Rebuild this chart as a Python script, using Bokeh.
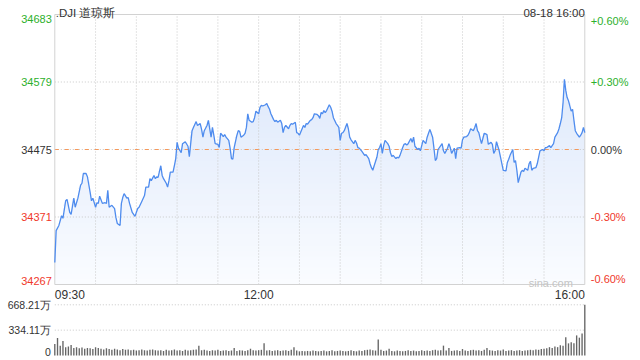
import numpy as np
from bokeh.plotting import figure
from bokeh.models import Range1d, Label
from bokeh.embed import file_html
from bokeh.resources import INLINE

# ---------------- data ----------------
title_text = ".DJI 道琼斯"
date_text = "08-18 16:00"
watermark = "sina.com"
prev_close = 34475
price_ticks = [34683, 34579, 34475, 34371, 34267]
pct_labels = ["+0.60%", "+0.30%", "0.00%", "-0.30%", "-0.60%"]
time_ticks = [0, 150, 390]
time_labels = ["09:30", "12:00", "16:00"]
grid_minutes = [30, 60, 90, 120, 150, 180, 210, 240, 270, 300, 330, 360]
vol_ticks = [668.21, 334.11, 0]
vol_tick_labels = ["668.21万", "334.11万", "0"]

minutes = [0, 1, 3, 5, 6, 8, 9, 11, 12, 14, 15, 17, 19, 20, 21, 23, 24, 26, 27, 28,
           30, 31, 32, 33, 35, 37, 38, 39, 40, 42, 44, 45, 46, 48, 49, 50, 51, 53, 54, 55,
           57, 58, 59, 61, 62, 64, 66, 67, 69, 70, 71, 73, 74, 75, 76, 78, 79, 80, 82, 83,
           84, 85, 87, 88, 89, 90, 91, 93, 94, 96, 98, 99, 101, 102, 104, 105, 107, 108, 109, 110,
           112, 113, 115, 116, 117, 118, 120, 121, 122, 124, 125, 126, 128, 129, 130, 131, 132, 134, 135, 136,
           137, 139, 140, 141, 142, 143, 145, 146, 147, 148, 150, 151, 152, 153, 155, 156, 157, 158, 159, 161,
           162, 163, 164, 166, 167, 168, 169, 170, 172, 173, 174, 175, 177, 178, 179, 180, 182, 183, 184, 185,
           186, 188, 189, 190, 191, 193, 194, 195, 196, 197, 198, 199, 200, 202, 203, 204, 205, 207, 208, 209,
           210, 211, 212, 213, 215, 216, 217, 218, 220, 221, 222, 223, 224, 226, 227, 228, 229, 231, 232, 233,
           234, 235, 237, 238, 239, 240, 241, 242, 243, 245, 246, 247, 248, 249, 251, 252, 253, 254, 256, 257,
           258, 259, 260, 262, 263, 264, 265, 267, 268, 269, 270, 271, 273, 274, 275, 276, 278, 279, 280, 281,
           282, 284, 285, 286, 287, 289, 290, 291, 292, 294, 295, 296, 298, 299, 300, 301, 303, 304, 305, 306,
           308, 309, 310, 311, 312, 313, 314, 316, 317, 318, 319, 321, 322, 323, 324, 325, 327, 328, 329, 330,
           332, 333, 334, 335, 337, 338, 339, 340, 341, 343, 344, 345, 346, 348, 349, 350, 351, 352, 354, 355,
           356, 357, 359, 360, 361, 362, 364, 365, 366, 367, 368, 370, 371, 372, 373, 374, 375, 376, 377, 378,
           380, 381, 382, 383, 384, 386, 387, 388, 389, 390]
prices = [34301, 34350, 34358, 34373, 34369, 34396, 34398, 34378, 34375, 34400, 34386, 34400, 34420, 34423, 34438, 34438, 34433, 34409, 34396, 34400,
          34386, 34393, 34392, 34403, 34392, 34393, 34392, 34412, 34386, 34389, 34384, 34370, 34361, 34358, 34392, 34401, 34407, 34400, 34401, 34392,
          34378, 34375, 34372, 34384, 34386, 34395, 34404, 34417, 34417, 34430, 34427, 34435, 34430, 34433, 34432, 34450, 34435, 34430, 34423, 34417,
          34427, 34440, 34440, 34450, 34461, 34486, 34477, 34470, 34484, 34487, 34480, 34464, 34504, 34509, 34518, 34512, 34515, 34506, 34494, 34504,
          34512, 34520, 34494, 34509, 34497, 34484, 34483, 34478, 34500, 34495, 34498, 34494, 34489, 34477, 34461, 34460, 34478, 34497, 34504, 34503,
          34494, 34497, 34500, 34509, 34530, 34520, 34517, 34518, 34524, 34534, 34530, 34540, 34543, 34542, 34544, 34546, 34541, 34537, 34530, 34521,
          34518, 34520, 34517, 34520, 34515, 34501, 34509, 34512, 34507, 34512, 34515, 34514, 34517, 34501, 34500, 34497, 34507, 34512, 34509, 34515,
          34514, 34520, 34521, 34524, 34530, 34529, 34527, 34523, 34532, 34530, 34535, 34532, 34535, 34544, 34540, 34534, 34524, 34515, 34512, 34509,
          34489, 34500, 34501, 34504, 34515, 34507, 34494, 34490, 34484, 34489, 34485, 34478, 34477, 34472, 34469, 34466, 34467, 34461, 34453, 34447,
          34443, 34450, 34463, 34475, 34478, 34484, 34469, 34481, 34489, 34484, 34480, 34470, 34464, 34466, 34461, 34463, 34462, 34466, 34478, 34483,
          34484, 34482, 34484, 34492, 34486, 34494, 34480, 34475, 34477, 34473, 34481, 34489, 34484, 34494, 34500, 34506, 34494, 34477, 34458, 34461,
          34475, 34481, 34484, 34473, 34469, 34477, 34484, 34478, 34469, 34477, 34461, 34477, 34478, 34477, 34490, 34494, 34495, 34497, 34501, 34507,
          34504, 34509, 34515, 34504, 34501, 34492, 34484, 34500, 34499, 34498, 34483, 34486, 34483, 34469, 34473, 34487, 34473, 34463, 34453, 34443,
          34442, 34455, 34460, 34466, 34475, 34455, 34458, 34443, 34424, 34440, 34443, 34441, 34446, 34443, 34453, 34457, 34443, 34446, 34447, 34453,
          34463, 34473, 34475, 34473, 34478, 34478, 34481, 34478, 34481, 34484, 34494, 34501, 34507, 34515, 34524, 34547, 34583, 34566, 34555, 34550,
          34534, 34537, 34520, 34504, 34500, 34494, 34497, 34501, 34509, 34501]

vol_minutes = list(range(0, 391, 2))
volumes = [150, 230, 130, 190, 110, 120, 140, 100, 110, 95,
           105, 90, 100, 95, 85, 110, 100, 90, 80, 95,
           85, 75, 90, 80, 70, 85, 75, 80, 70, 75,
           65, 70, 80, 70, 65, 75, 80, 70, 65, 70,
           60, 75, 65, 70, 80, 65, 70, 60, 75, 65,
           70, 75, 80, 130, 70, 75, 65, 60, 70, 65,
           75, 60, 65, 70, 60, 65, 100, 60, 70, 65,
           60, 70, 90, 70, 65, 70, 75, 160, 65, 70,
           60, 65, 70, 60, 65, 70, 60, 75, 110, 65,
           55, 60, 55, 60, 55, 65, 60, 55, 60, 65,
           55, 60, 70, 55, 60, 65, 60, 55, 60, 70,
           60, 55, 65, 60, 70, 75, 80, 70, 65, 210,
           75, 60, 65, 90, 60, 55, 65, 60, 55, 60,
           70, 60, 65, 55, 60, 70, 60, 65, 60, 70,
           75, 65, 70, 130, 65, 100, 60, 65, 70, 60,
           85, 65, 60, 70, 75, 65, 70, 60, 75, 100,
           70, 65, 60, 70, 65, 80, 60, 65, 70, 60,
           65, 70, 60, 65, 70, 75, 70, 80, 75, 85,
           90, 95, 110, 100, 120, 110, 135, 130, 240, 160,
           175, 160, 265, 235, 290, 668.21]

# ---------------- styling / layout ----------------
FONT = "Liberation Sans"
GREEN = "#2cb02c"
RED = "#f0382b"
DARK = "#333333"
GRID = "#c8c8c8"
LINE = "#4f8cee"
ORANGE = "#f5985a"

W, H = 640, 360              # figure size; the frame covers the whole figure
X0_PX, X1_PX = 54.3, 584.3   # x pixel of 09:30 and 16:00 inside the figure
HI_PX, LO_PX = 14, 284       # y pixel (from top) of price panel top / bottom
VMAX_PX, V0_PX = 304.3, 355  # y pixel (from top) of the volume max line / zero

t0, t1 = 0, 390
hi, lo = max(price_ticks), min(price_ticks)
px_per_min = (X1_PX - X0_PX) / (t1 - t0)
pts_per_px = (hi - lo) / (LO_PX - HI_PX)
x_range = Range1d(t0 - X0_PX / px_per_min, t1 + (W - X1_PX) / px_per_min)
y_range = Range1d(lo - (H - LO_PX) * pts_per_px, hi + HI_PX * pts_per_px)
vmax = max(vol_ticks)
vol_per_px = vmax / (V0_PX - VMAX_PX)
vol_range = Range1d(-(H - V0_PX) * vol_per_px, vmax + VMAX_PX * vol_per_px)

p = figure(width=W, height=H, x_range=x_range, y_range=y_range,
           output_backend="svg", toolbar_location=None,
           x_axis_type=None, y_axis_type=None,
           min_border_left=0, min_border_right=0,
           min_border_top=0, min_border_bottom=0)
p.extra_y_ranges = {"vol": vol_range}
p.outline_line_color = None
p.background_fill_color = "white"
p.border_fill_color = "white"

# gradient area fill (horizontal bands, drawn bottom to top)
pr = np.array(prices, dtype=float)
N = 48
c_top = np.array([214, 227, 250])
c_bot = np.array([250, 252, 255])
for k in range(N):
    yk = lo + (hi - lo) * k / N
    f = (k + 0.5) / N
    c = c_bot + (c_top - c_bot) * f
    col = "#%02x%02x%02x" % tuple(int(round(v)) for v in c)
    p.varea(x=minutes, y1=yk, y2=np.maximum(pr, yk), fill_color=col)

# grid lines in price panel
for gm in grid_minutes:
    p.segment(x0=gm, y0=lo, x1=gm, y1=hi, line_color=GRID, line_width=1, line_dash="1 2")
for pt in price_ticks[1:-1]:
    if pt != prev_close:
        p.segment(x0=t0, y0=pt, x1=t1, y1=pt, line_color=GRID, line_width=1, line_dash="1 2")
p.segment(x0=t0, y0=prev_close, x1=t1, y1=prev_close, line_color=GRID, line_width=1,
          line_dash="1 2", line_dash_offset=6)
p.segment(x0=t0, y0=prev_close, x1=t1, y1=prev_close, line_color=ORANGE, line_width=1.2, line_dash="4 6")

# price panel box
p.quad(left=t0, right=t1, bottom=lo, top=hi, fill_color=None, line_color="#d2d2d2", line_width=1)

# price line
p.line(minutes, prices, line_color=LINE, line_width=1.3)

# volume
for vt in vol_ticks[:-1]:
    p.segment(x0=t0, y0=vt, x1=t1, y1=vt, line_color=GRID, line_width=1, line_dash="1 2", y_range_name="vol")
p.vbar(x=vol_minutes, width=1.0, top=volumes, bottom=0, y_range_name="vol",
       fill_color="#666666", line_color=None)

# ---------------- labels ----------------
def lab(**kw):
    base = dict(text_font=FONT, text_font_size="11px", text_color=DARK)
    base.update(kw)
    p.add_layout(Label(**base))

n = len(price_ticks)
for i, (pt, pl) in enumerate(zip(price_ticks, pct_labels)):
    col = GREEN if pt > prev_close else (RED if pt < prev_close else DARK)
    bl = "top" if i == 0 else ("bottom" if i == n - 1 else "middle")
    lab(x=t0, y=pt, text=str(pt), text_align="right", text_baseline=bl, x_offset=-3, text_color=col)
    lab(x=t1, y=pt, text=pl, text_align="left", text_baseline=bl, x_offset=6, text_color=col)

aligns = ["left", "center", "right"]
for tt, tl, al in zip(time_ticks, time_labels, aligns):
    lab(x=tt, y=lo, text=tl, text_align=al, text_baseline="top", y_offset=-3, text_font_size="12px")

lab(x=t0, y=hi, text=title_text, text_align="left", text_baseline="alphabetic", y_offset=2, x_offset=1,
    text_font_size="11.5px")
lab(x=t1, y=hi, text=date_text, text_align="right", text_baseline="alphabetic", y_offset=2,
    text_font_size="11.5px")
lab(x=t1, y=lo, text=watermark, text_align="right", text_baseline="alphabetic", y_offset=2, x_offset=-12,
    text_color="#c4c4c4", text_font_size="11px")

for i, (vt, vl) in enumerate(zip(vol_ticks, vol_tick_labels)):
    bl = "bottom" if vt == 0 else "middle"
    lab(x=t0, y=vt, text=vl, text_align="right", text_baseline=bl, x_offset=-4, y_range_name="vol",
        text_font_size="10.5px")

open("out.html", "w").write(file_html(p, INLINE))
